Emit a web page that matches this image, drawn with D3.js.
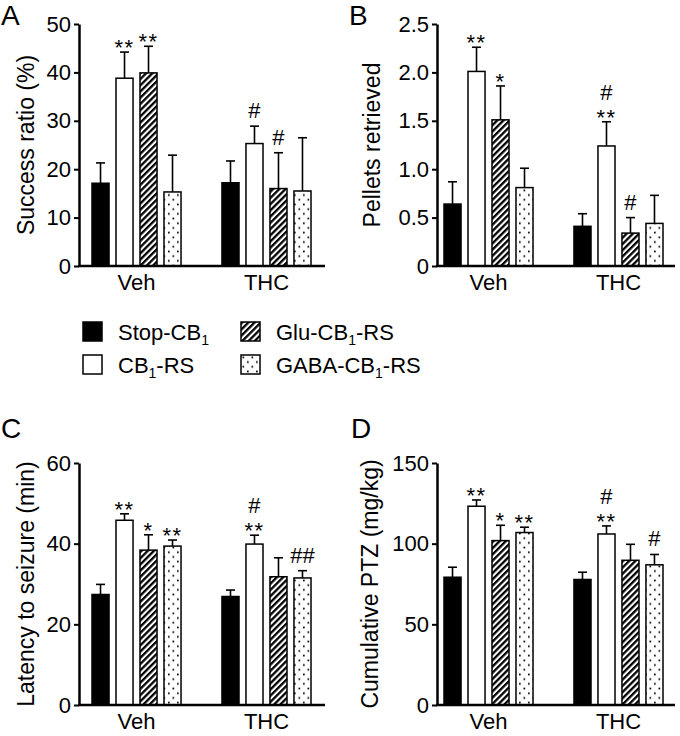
<!DOCTYPE html>
<html>
<head>
<meta charset="utf-8">
<script src="https://cdn.jsdelivr.net/npm/d3@7"></script>
<style>
body { margin: 0; background: #fff; }
svg { font-family: "Liberation Sans", Arial, sans-serif; }
</style>
</head>
<body>
<div id="chart-area"></div>
<script>
// groups on the x axis, and the 4 mouse lines
var groups = ['Veh', 'THC'];
var series = ['stop', 'rs', 'glu', 'gaba'];
var legendLabels = [['Stop-CB', '1', ''], ['CB', '1', '-RS'], ['Glu-CB', '1', '-RS'], ['GABA-CB', '1', '-RS']];

// A - success ratio (%)
var aVeh = [17.1, 38.8, 39.9, 15.3];
var aThc = [17.2, 25.3, 16.0, 15.5];
var aVehSem = [4.2, 5.4, 5.5, 7.6];
var aThcSem = [4.5, 3.6, 7.4, 11.0];
var aTicks = [0, 10, 20, 30, 40, 50];
var aStars = [['', '**', '**', ''], ['', '', '', '']];
var aHash = [['', '', '', ''], ['', '#', '#', '']];

// B - pellets retrieved
var bVeh = [0.64, 2.01, 1.51, 0.81];
var bThc = [0.41, 1.24, 0.34, 0.44];
var bVehSem = [0.23, 0.25, 0.35, 0.20];
var bThcSem = [0.13, 0.25, 0.16, 0.29];
var bTicks = [0, 0.5, 1.0, 1.5, 2.0, 2.5];
var bStars = [['', '**', '*', ''], ['', '**', '', '']];
var bHash = [['', '', '', ''], ['', '#', '#', '']];

// C - latency to seizure (min)
var cVeh = [27.4, 45.8, 38.4, 39.4];
var cThc = [26.9, 39.9, 31.8, 31.5];
var cVehSem = [2.5, 1.6, 3.8, 1.5];
var cThcSem = [1.6, 2.2, 4.7, 1.8];
var cTicks = [0, 20, 40, 60];
var cStars = [['', '**', '*', '**'], ['', '**', '', '']];
var cHash = [['', '', '', ''], ['', '#', '', '##']];

// D - cumulative PTZ (mg/kg)
var dVeh = [79.2, 123.2, 101.9, 106.9];
var dThc = [77.8, 106.0, 89.7, 86.9];
var dVehSem = [6.2, 3.9, 9.5, 3.3];
var dThcSem = [4.5, 5.0, 9.9, 6.4];
var dTicks = [0, 50, 100, 150];
var dStars = [['', '**', '*', '**'], ['', '**', '', '']];
var dHash = [['', '', '', ''], ['', '#', '', '#']];

var svg = d3.select('#chart-area').append('svg')
    .attr('width', 680)
    .attr('height', 736);

svg.append('rect').attr('width', 680).attr('height', 736).attr('fill', '#fff');

// fill patterns for the hatched and dotted bars
var defs = svg.append('defs');
var hatch = defs.append('pattern')
    .attr('id', 'hatch')
    .attr('patternUnits', 'userSpaceOnUse')
    .attr('width', 4.4)
    .attr('height', 4.4)
    .attr('patternTransform', 'rotate(45)');
hatch.append('rect').attr('width', 4.4).attr('height', 4.4).attr('fill', '#fff');
hatch.append('rect').attr('width', 2.3).attr('height', 4.4).attr('fill', '#000');

var dots = defs.append('pattern')
    .attr('id', 'dots')
    .attr('patternUnits', 'userSpaceOnUse')
    .attr('width', 9)
    .attr('height', 9.4);
dots.append('rect').attr('width', 9).attr('height', 9.4).attr('fill', '#fff');
dots.append('rect').attr('x', 1.5).attr('y', 1.5).attr('width', 1.7).attr('height', 1.7).attr('fill', '#000');
dots.append('rect').attr('x', 6).attr('y', 6.2).attr('width', 1.7).attr('height', 1.7).attr('fill', '#000');

var fills = d3.scaleOrdinal()
    .domain(series)
    .range(['#000', '#fff', 'url(#hatch)', 'url(#dots)']);

var panels = [
    {letter: 'A', lx: 1, ly: 25, title: 'Success ratio (%)', tx: 34, ticks: aTicks, fmt: d3.format('d'),
     means: [aVeh, aThc], sems: [aVehSem, aThcSem], stars: aStars, hash: aHash,
     axisX: 79, barStart: 92, xEnd: 325, top: 24, bottom: 266},
    {letter: 'B', lx: 349, ly: 25, title: 'Pellets retrieved', tx: 380, ticks: bTicks, fmt: (d) => d === 0 ? '0' : d3.format('.1f')(d),
     means: [bVeh, bThc], sems: [bVehSem, bThcSem], stars: bStars, hash: bHash,
     axisX: 437, barStart: 444, xEnd: 675, top: 24, bottom: 266},
    {letter: 'C', lx: 1, ly: 438, title: 'Latency to seizure (min)', tx: 34, ticks: cTicks, fmt: d3.format('d'),
     means: [cVeh, cThc], sems: [cVehSem, cThcSem], stars: cStars, hash: cHash,
     axisX: 79, barStart: 92, xEnd: 325, top: 463, bottom: 705},
    {letter: 'D', lx: 351, ly: 438, title: 'Cumulative PTZ (mg/kg)', tx: 378, ticks: dTicks, fmt: d3.format('d'),
     means: [dVeh, dThc], sems: [dVehSem, dThcSem], stars: dStars, hash: dHash,
     axisX: 437, barStart: 444, xEnd: 675, top: 463, bottom: 705}
];

panels.forEach((p) => {
    var g = svg.append('g');
    var ticks = p.ticks;

    var y = d3.scaleLinear()
        .domain([0, ticks[ticks.length - 1]])
        .range([p.bottom, p.top]);

    var x = d3.scaleBand()
        .domain(groups)
        .range([p.barStart, p.barStart + 219])
        .paddingInner(0.315)
        .paddingOuter(0);

    var xs = d3.scaleBand()
        .domain(series)
        .range([0, x.bandwidth()])
        .paddingInner(0.29)
        .paddingOuter(0);

    // flatten into one row per bar
    var rows = [];
    groups.forEach((grp, gi) => {
        series.forEach((s, si) => {
            rows.push({grp: grp, s: s, v: p.means[gi][si], e: p.sems[gi][si],
                       star: p.stars[gi][si], hash: p.hash[gi][si]});
        });
    });
    var cx = (d) => x(d.grp) + xs(d.s) + xs.bandwidth() / 2;

    // error bars (upper only)
    g.selectAll('line.err').data(rows).enter()
        .append('line')
            .attr('x1', cx).attr('x2', cx)
            .attr('y1', (d) => y(d.v))
            .attr('y2', (d) => y(d.v + d.e))
            .attr('stroke', '#000').attr('stroke-width', 1.6);
    g.selectAll('line.cap').data(rows).enter()
        .append('line')
            .attr('x1', (d) => cx(d) - 4.5).attr('x2', (d) => cx(d) + 4.5)
            .attr('y1', (d) => y(d.v + d.e))
            .attr('y2', (d) => y(d.v + d.e))
            .attr('stroke', '#000').attr('stroke-width', 1.6);

    g.selectAll('rect.bar').data(rows).enter()
        .append('rect')
            .attr('x', (d) => x(d.grp) + xs(d.s))
            .attr('y', (d) => y(d.v))
            .attr('width', xs.bandwidth())
            .attr('height', (d) => y(0) - y(d.v))
            .attr('fill', (d) => fills(d.s))
            .attr('stroke', '#000')
            .attr('stroke-width', 1.5);

    // significance marks: # stacked over the stars in one text
    var marks = g.selectAll('text.mark').data(rows.filter((d) => d.star || d.hash)).enter()
        .append('text')
            .attr('x', cx)
            .attr('y', (d) => y(d.v + d.e) + (d.star ? 3 : -8))
            .attr('text-anchor', 'middle')
            .attr('font-size', 22);
    marks.filter((d) => d.hash && d.star)
        .append('tspan')
            .attr('x', cx)
            .attr('dy', -25)
            .text((d) => d.hash);
    marks.filter((d) => d.star)
        .append('tspan')
            .attr('x', cx)
            .attr('dy', (d) => d.hash ? 25 : 0)
            .attr('letter-spacing', 1.5)
            .text((d) => d.star);
    marks.filter((d) => !d.star)
        .append('tspan')
            .text((d) => d.hash);

    // y axis
    var yAxis = d3.axisLeft(y)
        .tickValues(ticks)
        .tickFormat(p.fmt)
        .tickSize(5)
        .tickSizeOuter(0)
        .tickPadding(3);
    var ya = g.append('g')
        .attr('transform', 'translate(' + p.axisX + ',0)')
        .call(yAxis);
    ya.attr('font-size', 22).attr('font-family', null);
    ya.select('.domain').attr('stroke-width', 2.5);
    ya.selectAll('.tick line').attr('stroke-width', 2);
    ya.selectAll('.tick text').attr('fill', '#000');

    // x axis baseline, no ticks
    g.append('line')
        .attr('x1', p.axisX - 1).attr('x2', p.xEnd)
        .attr('y1', y(0)).attr('y2', y(0))
        .attr('stroke', '#000').attr('stroke-width', 2.5);

    g.selectAll('text.cat').data(groups).enter()
        .append('text')
            .attr('x', (d) => x(d) + x.bandwidth() / 2)
            .attr('y', y(0) + 24)
            .attr('text-anchor', 'middle')
            .attr('font-size', 22)
            .text((d) => d);

    g.append('text')
        .attr('transform', 'translate(' + p.tx + ',' + (p.top + p.bottom) / 2 + ') rotate(-90)')
        .attr('text-anchor', 'middle')
        .attr('font-size', 23)
        .text(p.title);

    g.append('text')
        .attr('x', p.lx)
        .attr('y', p.ly)
        .attr('font-size', 28)
        .text(p.letter);
});

// legend
var legX = [83, 83, 241, 241];
var legY = [322, 355, 322, 355];
var leg = svg.selectAll('g.leg').data(series).enter()
    .append('g')
        .attr('transform', (d, i) => 'translate(' + legX[i] + ',' + legY[i] + ')');
leg.append('rect')
    .attr('width', 19).attr('height', 19)
    .attr('fill', (d) => fills(d))
    .attr('stroke', '#000').attr('stroke-width', 1.5);
var lt = leg.append('text')
    .attr('x', 35)
    .attr('y', 18)
    .attr('font-size', 22);
lt.append('tspan').text((d, i) => legendLabels[i][0]);
lt.append('tspan').attr('font-size', 14).attr('dy', 5).text((d, i) => legendLabels[i][1]);
lt.append('tspan').attr('dy', -5).text((d, i) => legendLabels[i][2]);
</script>
</body>
</html>
